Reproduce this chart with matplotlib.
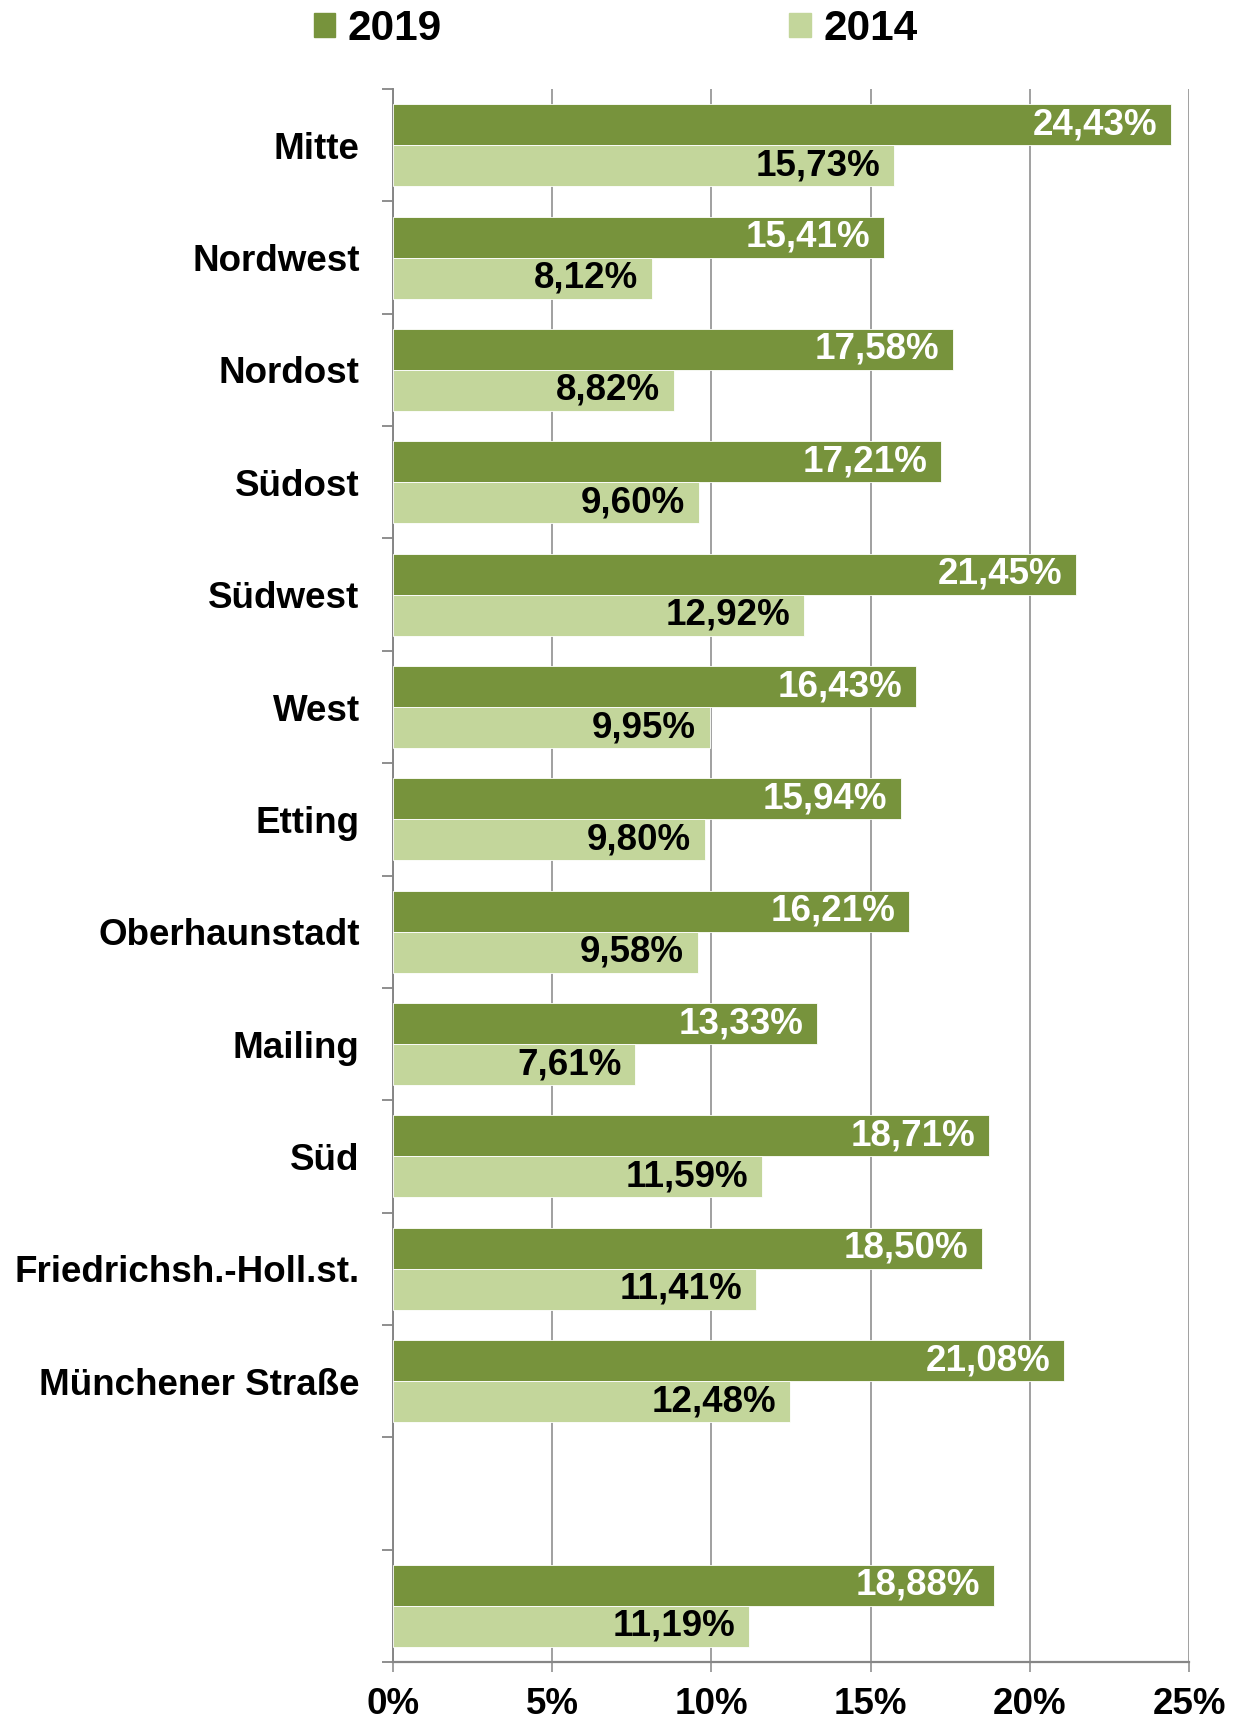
import matplotlib
matplotlib.use("Agg")
import matplotlib.pyplot as plt
from matplotlib.patches import Patch
import numpy as np

plt.rcParams['font.family'] = ['Liberation Sans', 'DejaVu Sans']
plt.rcParams['font.weight'] = 'bold'

# data
categories = ['Mitte', 'Nordwest', 'Nordost', 'Südost', 'Südwest', 'West', 'Etting',
              'Oberhaunstadt', 'Mailing', 'Süd', 'Friedrichsh.-Holl.st.',
              'Münchener Straße', '', '']
vals_2019 = [24.43, 15.41, 17.58, 17.21, 21.45, 16.43, 15.94, 16.21, 13.33, 18.71, 18.50, 21.08, None, 18.88]
vals_2014 = [15.73, 8.12, 8.82, 9.60, 12.92, 9.95, 9.80, 9.58, 7.61, 11.59, 11.41, 12.48, None, 11.19]
series_names = ['2019', '2014']
xticks = [0, 5, 10, 15, 20, 25]

c_dark = '#77933C'
c_light = '#C3D69B'
gray = '#868686'
fs = 26.5

fig = plt.figure(figsize=(12.39, 17.23), dpi=100)
ax = fig.add_axes([0.3172, 0.0354, 0.6425, 0.9129])

h = 0.365
y = np.arange(len(categories))
for i, (a, b) in enumerate(zip(vals_2019, vals_2014)):
    if a is None:
        continue
    ax.barh(i - h / 2, a, height=h, color=c_dark, edgecolor='white', linewidth=0.6, zorder=3)
    ax.barh(i + h / 2, b, height=h, color=c_light, edgecolor='white', linewidth=0.6, zorder=3)
    ax.annotate(f"{a:.2f}%".replace('.', ','), (a, i - h / 2), xytext=(-10, 0),
                textcoords='offset points', ha='right', va='center',
                color='white', fontsize=fs, fontweight='bold', zorder=4)
    ax.annotate(f"{b:.2f}%".replace('.', ','), (b, i + h / 2), xytext=(-10, 0),
                textcoords='offset points', ha='right', va='center',
                color='black', fontsize=fs, fontweight='bold', zorder=4)

ax.set_xlim(0, 25)
ax.set_ylim(len(categories) - 0.5, -0.5)

ax.set_xticks(xticks)
ax.set_xticklabels([f"{t}%" for t in xticks], fontsize=fs, fontweight='bold')
ax.tick_params(axis='x', length=7, width=1.1, color=gray, pad=11)
ax.xaxis.grid(True, color=gray, linewidth=1.1, zorder=0)

ax.set_yticks(y)
ax.set_yticklabels(categories, fontsize=fs, fontweight='bold')
ax.set_yticks(np.arange(-0.5, len(categories), 1), minor=True)
ax.tick_params(axis='y', which='major', length=0, pad=24)
ax.tick_params(axis='y', which='minor', length=8, width=1.3, color=gray)

for s in ['top', 'right']:
    ax.spines[s].set_visible(False)
ax.spines['left'].set_color(gray)
ax.spines['left'].set_linewidth(1.4)
ax.spines['bottom'].set_color(gray)
ax.spines['bottom'].set_linewidth(1.6)

handles = [Patch(color=c_dark), Patch(color=c_light)]
fig.legend(handles, series_names, loc='center', bbox_to_anchor=(0.497, 0.983), ncol=2,
           frameon=False, fontsize=30.5, handlelength=0.5, handleheight=0.5,
           handletextpad=0.3, columnspacing=8.2)

fig.savefig('out.png', dpi=100)
